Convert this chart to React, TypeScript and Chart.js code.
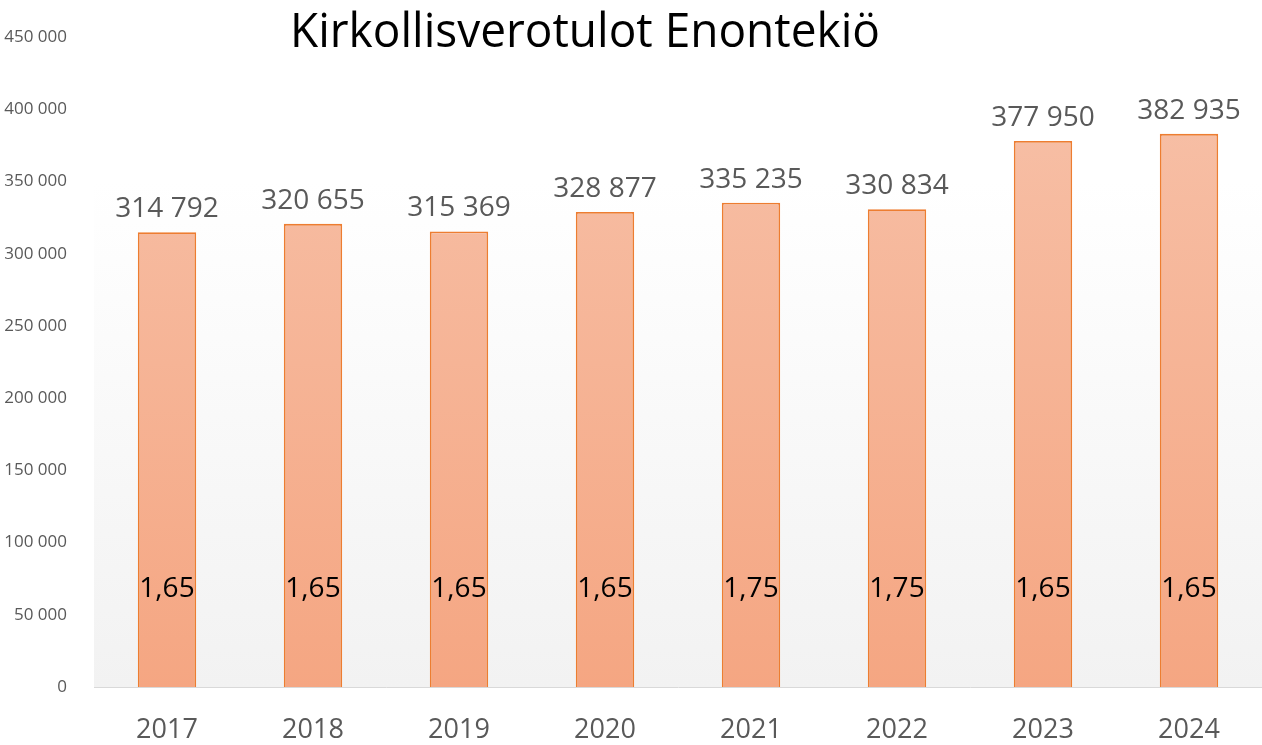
import React, { useEffect, useRef } from "react";
import { Chart, registerables } from "chart.js";

Chart.register(...registerables);

const years = ["2017", "2018", "2019", "2020", "2021", "2022", "2023", "2024"];
const churchTax = [314792, 320655, 315369, 328877, 335235, 330834, 377950, 382935];
const taxRates = ["1,65", "1,65", "1,65", "1,65", "1,75", "1,75", "1,65", "1,65"];
const titleText = "Kirkollisverotulot Enontekiö";

const FONT = "'Open Sans', 'Noto Sans', sans-serif";

const fmt = (v: number) => String(Math.round(v)).replace(/\B(?=(\d{3})+(?!\d))/g, " ");

const bgPlugin = {
  id: "bgPlugin",
  beforeDatasetsDraw(chart: any) {
    const { ctx, chartArea, scales } = chart;
    const top = scales.y.getPixelForValue(350000);
    const bottom = scales.y.getPixelForValue(0);
    const g = ctx.createLinearGradient(0, top, 0, bottom);
    g.addColorStop(0, "#FFFFFF");
    g.addColorStop(1, "#F2F2F2");
    ctx.save();
    ctx.fillStyle = g;
    ctx.fillRect(chartArea.left, top, chartArea.right - chartArea.left, bottom - top);
    ctx.restore();
  },
};

const labelPlugin = {
  id: "labelPlugin",
  afterDatasetsDraw(chart: any) {
    const { ctx, scales } = chart;
    const meta = chart.getDatasetMeta(0);
    const base = scales.y.getPixelForValue(0);
    ctx.save();
    ctx.textAlign = "center";
    ctx.textBaseline = "alphabetic";
    meta.data.forEach((bar: any, i: number) => {
      ctx.font = `28px ${FONT}`;
      ctx.fillStyle = "#595959";
      ctx.fillText(fmt(churchTax[i]), bar.x, bar.y - 15);
      ctx.fillStyle = "#000000";
      ctx.fillText(taxRates[i], bar.x, base - 90);
    });
    ctx.restore();
  },
};

const titlePlugin = {
  id: "titlePlugin",
  afterDraw(chart: any) {
    const { ctx } = chart;
    ctx.save();
    ctx.font = `48px ${FONT}`;
    ctx.fillStyle = "#000000";
    ctx.textAlign = "center";
    ctx.textBaseline = "alphabetic";
    ctx.fillText(titleText, 585, 47, 590);
    ctx.restore();
  },
};

export default function App() {
  const ref = useRef<HTMLCanvasElement | null>(null);

  useEffect(() => {
    document.body.style.margin = "0";
    const canvas = ref.current;
    if (!canvas) return;
    const chart = new Chart(canvas, {
      type: "bar",
      data: {
        labels: years,
        datasets: [
          {
            data: churchTax,
            backgroundColor: (c: any) => {
              const area = c.chart.chartArea;
              if (!area) return "#F6B394";
              const g = c.chart.ctx.createLinearGradient(0, area.top, 0, area.bottom);
              g.addColorStop(0, "#F7C2AA");
              g.addColorStop(1, "#F5A682");
              return g;
            },
            borderColor: "#ED7D31",
            borderWidth: 1.8,
            barPercentage: 0.4,
            categoryPercentage: 1,
          },
        ],
      },
      options: {
        animation: false,
        responsive: false,
        devicePixelRatio: 1,
        layout: { padding: { top: 37, left: 0, right: 0, bottom: 0 } },
        plugins: {
          legend: { display: false },
          title: { display: false },
          tooltip: { enabled: false },
        },
        scales: {
          y: {
            min: 0,
            max: 450000,
            grid: { display: false },
            border: { display: false },
            ticks: {
              stepSize: 50000,
              padding: 19,
              color: "#595959",
              font: { family: FONT, size: 17 },
              callback: (v: any) => fmt(Number(v)),
            },
            afterFit: (s: any) => {
              s.width = 94;
            },
          },
          x: {
            grid: { display: false, drawTicks: false },
            border: { display: true, color: "#D9D9D9", width: 1 },
            ticks: {
              padding: 27,
              color: "#595959",
              font: { family: FONT, size: 27 },
            },
            afterFit: (s: any) => {
              s.height = 58;
            },
          },
        },
      },
      plugins: [bgPlugin, labelPlugin, titlePlugin],
    });
    return () => chart.destroy();
  }, []);

  return <canvas ref={ref} width={1262} height={745} style={{ display: "block" }} />;
}
